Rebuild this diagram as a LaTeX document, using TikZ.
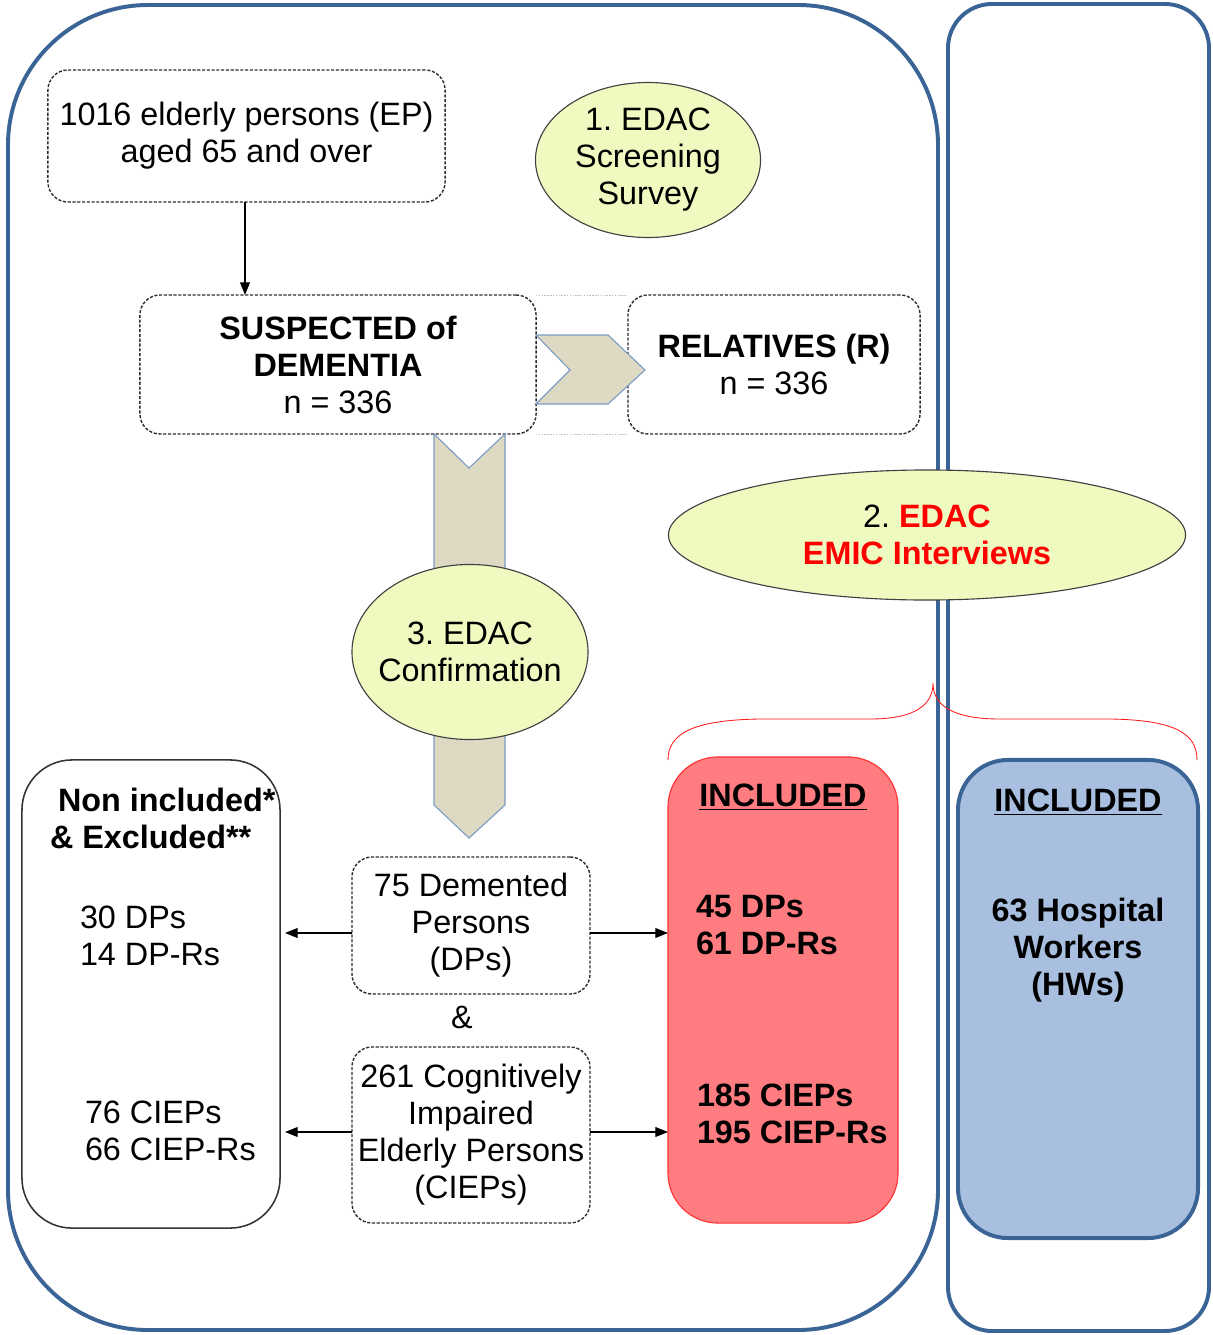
\documentclass[tikz,border=0pt]{standalone}
\usepackage{fontspec}
\setmainfont{Liberation Sans}
\usetikzlibrary{arrows.meta,shapes.geometric}
\definecolor{contblue}{RGB}{59,100,150}
\definecolor{ellfill}{RGB}{238,250,192}
\definecolor{chevfill}{RGB}{221,217,195}
\definecolor{chevline}{RGB}{125,156,196}
\definecolor{redfill}{RGB}{255,124,128}
\definecolor{redline}{RGB}{255,50,50}
\definecolor{bluefill}{RGB}{168,191,223}
\definecolor{dashgray}{RGB}{45,45,45}
\frenchspacing
\begin{document}
\begin{tikzpicture}[x=0.025cm,y=-0.025cm,
  every node/.style={font=\fontsize{23}{26.3}\selectfont, inner sep=0pt, outer sep=0pt},
  dbox/.style={draw=dashgray, line width=1pt, dash pattern=on 2.2pt off 1.2pt, rounded corners=0.5cm, align=center},
  ell/.style={ellipse, draw=black!75, line width=0.8pt, fill=ellfill},
  txt/.style={align=center},
  ltxt/.style={align=left, anchor=west},
  container/.style={draw=contblue, line width=2.8pt},
  chev/.style={fill=chevfill, draw=chevline, line width=0.8pt, line join=miter},
  arr/.style={-{Triangle[length=9pt,width=7pt]}, line width=0.9pt, black},
]
\useasboundingbox (0,0) rectangle (1212,1335);
% containers
\draw[container, rounded corners=3.5cm] (8,5) rectangle (938,1330);
\draw[container, rounded corners=1.1cm] (948,4) rectangle (1209,1331);

% boxes
\node[dbox, minimum width=9.925cm, minimum height=3.3cm] (ep) at (246.5,136) {1016 elderly persons (EP)\\aged 65 and over};
\node[dbox, minimum width=9.9cm, minimum height=3.475cm, fill=white] (susp) at (338,364.5) {};
\node[dbox, minimum width=7.3cm, minimum height=3.475cm] (rel) at (774,364.5) {};
\draw[black!25, line width=0.5pt, dash pattern=on 1pt off 1pt] (susp.north east) -- (rel.north west);
\draw[black!25, line width=0.5pt, dash pattern=on 1pt off 1pt] (susp.south east) -- (rel.south west);

% chevrons
\draw[chev] (536,335) -- (608,335) -- (645,370) -- (608,404) -- (536,404) -- (570,370) -- cycle;
\draw[chev] (434,434) -- (469,468) -- (505,434) -- (505,805) -- (469,838) -- (434,805) -- cycle;

\node[txt] (susptext) at (susp.center) {\textbf{SUSPECTED of}\\\textbf{DEMENTIA}\\n = 336};
\node[txt] (reltext) at (rel.center) {\textbf{RELATIVES (R)}\\n = 336};

% ellipses
\node[ell, minimum width=5.625cm, minimum height=3.875cm] (e1) at (648,160) {};
\node[txt] (e1t) at (e1.center) {1. EDAC\\Screening\\Survey};
\node[ell, minimum width=5.9cm, minimum height=4.375cm] (e3) at (470,652) {};
\node[txt] (e3t) at (e3.center) {3. EDAC\\Confirmation};
\node[ell, minimum width=12.925cm, minimum height=3.25cm] (e2) at (927,535) {};
\node[txt] (e2t) at (e2.center) {2. \textcolor{red}{\textbf{EDAC}}\\\textcolor{red}{\textbf{EMIC Interviews}}};

% brace
\draw[red!90, line width=0.6pt] (668,760) .. controls (668,735) and (690,720) .. (760,719) -- (870,719)
  .. controls (915,719) and (933,705) .. (933,683)
  .. controls (933,705) and (952,719) .. (1000,719) -- (1110,719)
  .. controls (1178,720) and (1197,735) .. (1197,760);

% lower boxes
\node[draw=black!80, line width=1.1pt, rounded corners=1.25cm, minimum width=6.45cm, minimum height=11.7cm] (nonin) at (151,994) {};
\node[draw=redline, line width=0.8pt, fill=redfill, rounded corners=1.25cm, minimum width=5.75cm, minimum height=11.65cm] (incR) at (783,990) {};
\node[draw=contblue, line width=2.8pt, fill=bluefill, rounded corners=1.25cm, minimum width=6.0cm, minimum height=11.95cm] (incB) at (1078,999) {};

\node[dbox, minimum width=5.95cm, minimum height=3.425cm] (dem) at (471,925.5) {75 Demented\\Persons\\(DPs)};
\node (amp) at (462,1017) {\&};
\node[dbox, minimum width=5.95cm, minimum height=4.4cm] (cie) at (471,1135) {261 Cognitively\\Impaired\\Elderly Persons\\(CIEPs)};

% texts
\node[ltxt] (nontitle) at (50,818) {\textbf{\hspace{0.25em}Non included*}\\\textbf{\& Excluded**}};
\node[ltxt] (nondp) at (80,936) {30 DPs\\14 DP-Rs};
\node[ltxt] (nonciep) at (85,1131) {76 CIEPs\\66 CIEP-Rs};
\node[txt] (incRt) at (783,797) {\textbf{\underline{INCLUDED}}};
\node[ltxt] (incRdp) at (696,925) {\textbf{45 DPs}\\\textbf{61 DP-Rs}};
\node[ltxt] (incRciep) at (697,1114) {\textbf{185 CIEPs}\\\textbf{195 CIEP-Rs}};
\node[txt] (incBt) at (1078,802) {\textbf{\underline{INCLUDED}}};
\node[txt] (incBhw) at (1078,950) {\textbf{63 Hospital}\\\textbf{Workers}\\\textbf{(HWs)}};

% arrows
\draw[arr] (ep.south -| 245,0) -- (susp.north -| 245,0);
\draw[arr] (dem.west |- 0,933) -- ([xshift=0.125cm]nonin.east |- 0,933);
\draw[arr] (cie.west |- 0,1132) -- ([xshift=0.125cm]nonin.east |- 0,1132);
\draw[arr] (dem.east |- 0,933) -- (incR.west |- 0,933);
\draw[arr] (cie.east |- 0,1132) -- (incR.west |- 0,1132);
\end{tikzpicture}
\end{document}
